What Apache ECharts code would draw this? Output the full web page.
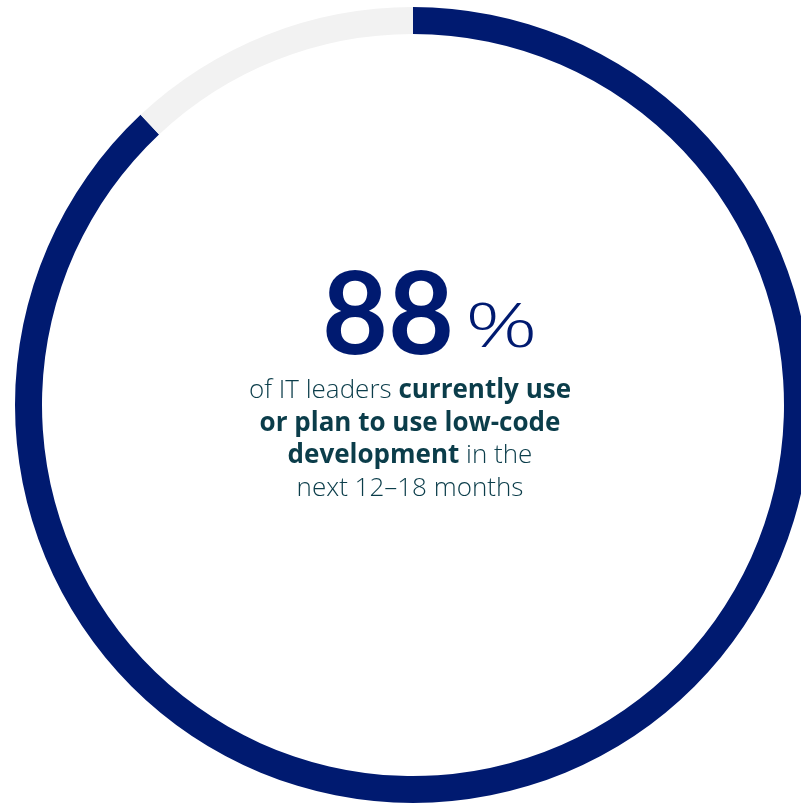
<!DOCTYPE html>
<html>
<head>
<meta charset="utf-8">
<script src="https://cdn.jsdelivr.net/npm/echarts@6/dist/echarts.min.js"></script>
<style>html,body{margin:0;padding:0;background:#fff;}#c{width:801px;height:804px;}</style>
</head>
<body>
<div id="c"></div>
<script>
const categories = ['Currently use or plan to use', 'Other'];
const values = [88, 12];
const colors = ['#001a70', '#f2f2f2'];
const headline = '88';
const headlineUnit = '%';
const captionLines = [
  '{a|of IT leaders }{b|currently use}',
  '{b|or plan to use low-code}',
  '{b|development}{a| in the}',
  '{a|next 12–18 months}'
];

const rich = {
  a: { fontFamily: 'Open Sans', fontWeight: 300, fontSize: 26, fill: '#0b3d4a' },
  b: { fontFamily: 'Open Sans', fontWeight: 'bold', fontSize: 26, fill: '#0b3d4a' }
};

const chart = echarts.init(document.getElementById('c'));
chart.setOption({
  backgroundColor: '#ffffff',
  animation: false,
  series: [{
    type: 'pie',
    center: [413, 405],
    radius: [371, 398],
    startAngle: 90,
    clockwise: true,
    silent: true,
    label: { show: false },
    labelLine: { show: false },
    itemStyle: { borderWidth: 0 },
    data: categories.map((c, i) => ({ name: c, value: values[i], itemStyle: { color: colors[i] } }))
  }],
  graphic: [
    {
      type: 'text',
      left: 322, top: 260,
      style: { text: headline, font: 'bold 114px Lato', fill: '#001a70' }
    },
    {
      type: 'text',
      x: 465, y: 300, scaleX: 1.5,
      style: { x: 0, y: 0, text: headlineUnit, align: 'left', verticalAlign: 'top', font: '300 60px "Open Sans"', fill: '#001a70' }
    }
  ].concat(captionLines.map((t, i) => ({
    type: 'text',
    style: {
      x: 410, y: 391 + i * 32.5,
      text: t, align: 'center', verticalAlign: 'middle',
      rich: rich
    }
  })))
});
</script>
</body>
</html>
